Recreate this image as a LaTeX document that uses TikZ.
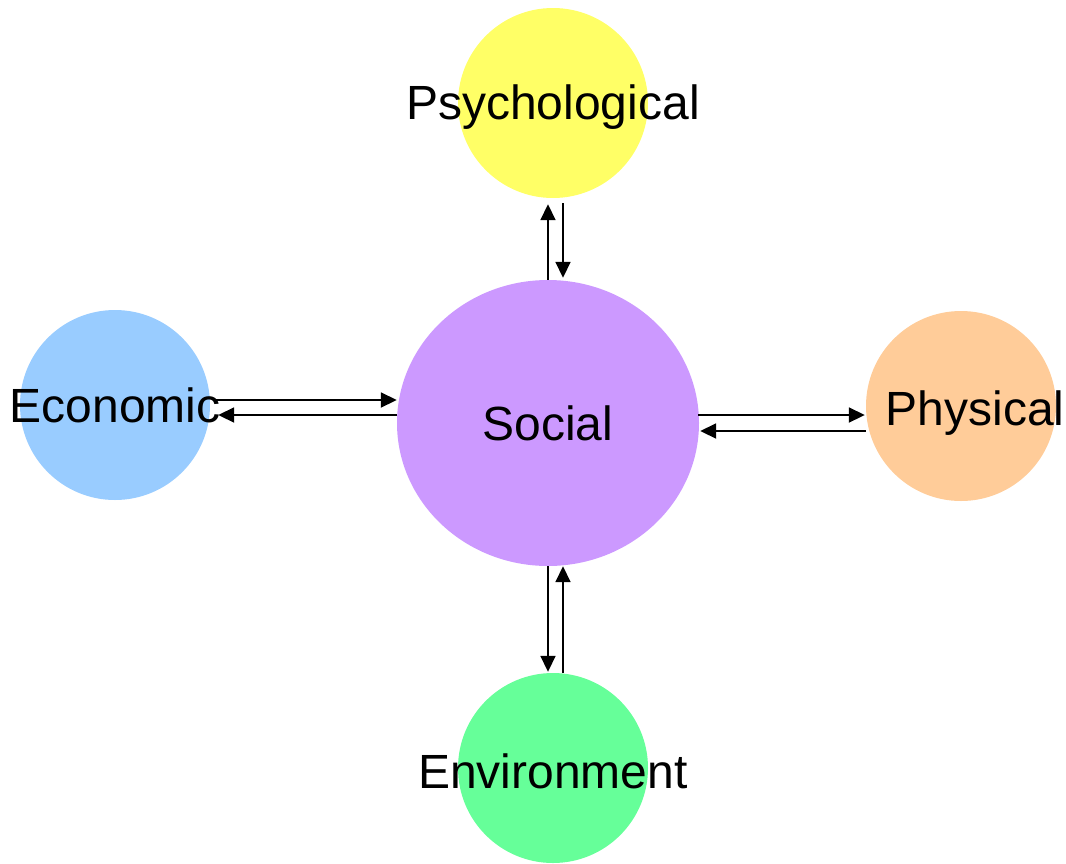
\documentclass[tikz,border=0pt]{standalone}
\usepackage{fontspec}
\setmainfont{Liberation Sans}
\usetikzlibrary{positioning,calc,shapes.geometric,arrows.meta}
\definecolor{psyyellow}{HTML}{FFFF66}
\definecolor{socpurple}{HTML}{CC99FF}
\definecolor{ecoblue}{HTML}{99CCFF}
\definecolor{phyorange}{HTML}{FFCC99}
\definecolor{envgreen}{HTML}{66FF99}
\begin{document}
\begin{tikzpicture}[x=1pt,y=-1pt,
  blob/.style={circle,inner sep=0pt,minimum size=190pt},
  link/.style={line width=1.8pt,-{Triangle[length=16pt,width=15pt]}}]
\useasboundingbox (0,0) rectangle (1066,863);
%circles
\node[blob,fill=psyyellow,
  label={[yshift=-4pt]center:\fontsize{48}{58}\selectfont Psychological}] (psy) at (553,103) {};
\node[ellipse,inner sep=0pt,minimum width=302pt,minimum height=286pt,fill=socpurple,
  font=\fontsize{48}{58}\selectfont] (soc) at (548,423) {Social};
\node[blob,fill=ecoblue,
  label={center:\fontsize{48}{58}\selectfont Economic}] (eco) at (115,405) {};
\node[blob,fill=phyorange,
  label={[xshift=14pt,yshift=-7pt]center:\fontsize{48}{58}\selectfont Physical}] (phy) at (961,406) {};
\node[blob,fill=envgreen,
  label={[yshift=-3pt]center:\fontsize{48}{58}\selectfont Environment}] (env) at (553,768) {};
%psychological
\draw[link] (soc.north) -- ($(psy.south)+(-5,6)$);
\draw[link] ($(psy.south)+(10,5)$) -- ($(soc.north)+(15,-2)$);
%economic
\draw[link] ($(eco.east)+(3,-5)$) -- ($(soc.west)+(0,-23)$);
\draw[link] ($(soc.west)+(0,-8)$) -- ($(eco.east)+(8,10)$);
%physical
\draw[link] ($(soc.east)+(-1,-8)$) -- ($(phy.west)+(-1,9)$);
\draw[link] ($(phy.west)+(0,25)$) -- ($(soc.east)+(1,8)$);
%environment
\draw[link] (soc.south) -- ($(env.north)+(-5,-1)$);
\draw[link] ($(env.north)+(10,0)$) -- ($(soc.south)+(15,0)$);
\end{tikzpicture}
\end{document}
